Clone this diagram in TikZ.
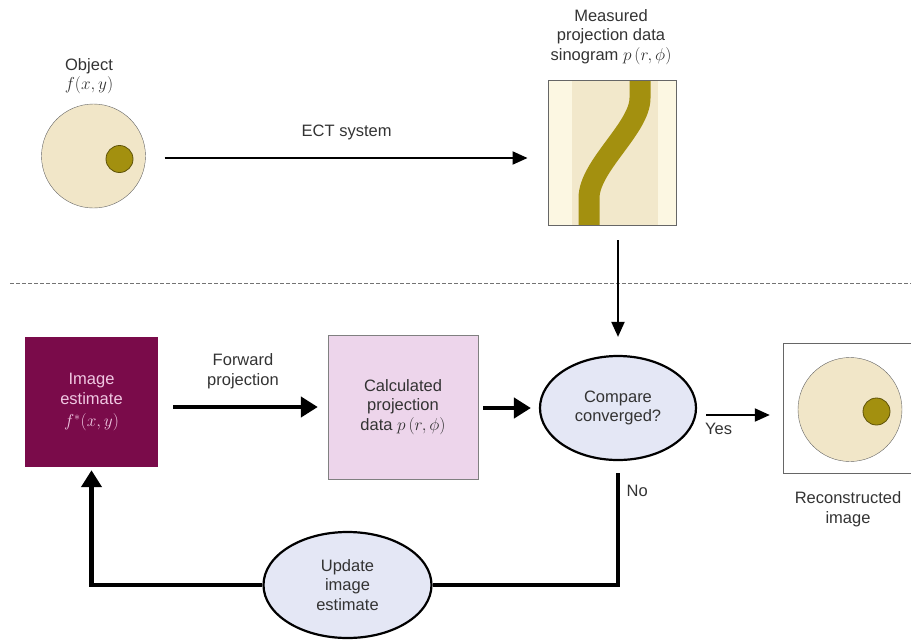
\documentclass[tikz,border=0pt]{standalone}
\usepackage{amsmath, amssymb}
\usepackage{fontspec}
\setmainfont{Liberation Sans}
\usepackage{tikz}
\usetikzlibrary{positioning,shapes.geometric,arrows.meta}
\definecolor{cream}{HTML}{F1E6C8}
\definecolor{palecream}{HTML}{FCF7E2}
\definecolor{sinomid}{HTML}{F2E8CB}
\definecolor{olive}{HTML}{A3900F}
\definecolor{olivedark}{HTML}{5E5208}
\definecolor{maroon}{HTML}{7A0B4A}
\definecolor{maroontext}{HTML}{F0C8E2}
\definecolor{pinkbox}{HTML}{EDD5EB}
\definecolor{lav}{HTML}{E4E7F5}
\tikzset{
  txt/.style={font=\fontsize{16.5}{19.5}\selectfont, align=center, text=black!80},
  thinarrow/.style={line width=2pt, -{Triangle[length=15pt,width=13pt]}},
  fatarrow/.style={line width=4.5pt, -{Triangle[length=17pt,width=20pt]}},
  fatline/.style={line width=4.5pt},
  disc/.style={circle, draw=black!60, fill=cream, inner sep=0pt},
  dot/.style={circle, draw=olivedark, fill=olive, line width=0.8pt, inner sep=0pt, minimum size=27pt},
  bubble/.style={ellipse, draw, line width=2.2pt, fill=lav, inner sep=0pt, txt}
}

\begin{document}
\begin{tikzpicture}[x=1pt,y=-1pt]
    \useasboundingbox (0,0) rectangle (911,641);
    % top: object and measured sinogram
    \node[disc, minimum size=104pt] (obj) at (93.5,156) {};
    \node[dot] (objdot) at (119.5,159) {};
    \node[txt] (objlbl) at (89,76) {Object\\$f(x,y)$};

    \fill[palecream] (548,80) rectangle (676,225);
    \fill[sinomid] (572,80) rectangle (658,225);
    \begin{scope}
      \clip (548,80) rectangle (676,225);
      \draw[olive, line width=21pt] (640,70) -- (640,98) .. controls (640,128) and (589,166) .. (589,198) -- (589,235);
    \end{scope}
    \node[draw=black!60, line width=0.9pt, minimum width=128pt, minimum height=145pt, inner sep=0pt] (sino) at (612,152.5) {};
    \node[txt] (sinolbl) at (611,37) {Measured\\projection data\\sinogram $p\,(r,\phi)$};

    \draw[thinarrow, shorten <=19pt, shorten >=20pt] (obj.east |- 0,158) -- (sino.west |- 0,158)
        node[midway, above=14pt, txt] {ECT system};

    \draw[black!55, line width=1pt, dash pattern=on 4pt off 2pt] (10,283) -- (911,283);

    % bottom: iterative loop
    \node[fill=maroon, minimum width=133pt, minimum height=130pt, txt, text=maroontext] (est) at (91.5,402)
        {Image\\estimate\\[3pt]$f^{*}(x,y)$};
    \node[draw=black!50, fill=pinkbox, minimum width=150pt, minimum height=144pt, txt] (calc) at (403,407)
        {Calculated\\projection\\data $p\,(r,\phi)$};
    \node[bubble, minimum width=156pt, minimum height=104pt] (cmp) at (618,408) {Compare\\converged?};
    \node[draw=black!60, minimum width=130pt, minimum height=130pt, inner sep=0pt] (recon) at (848,408) {};
    \node[disc, minimum size=104pt] (recdisc) at (850,409.5) {};
    \node[dot] (recdot) at (876.5,411.5) {};
    \node[txt] (reclbl) at (848,509) {Reconstructed\\image};
    \node[bubble, minimum width=168pt, minimum height=106pt] (upd) at (347.5,585) {Update\\image\\estimate};

    \draw[thinarrow, shorten >=18pt] (sino.south -| cmp) ++(0,15) -- (cmp.north);
    \draw[fatarrow, shorten <=15pt, shorten >=10pt] (est.east |- calc) -- (calc.west)
        node[midway, above=13pt, txt] {Forward\\projection};
    \draw[fatarrow, shorten <=5pt, shorten >=8pt] (calc.east |- cmp.west) -- (cmp.west);
    \draw[thinarrow, shorten <=9pt, shorten >=13pt] (cmp.east |- 0,415) -- (recon.west |- 0,415)
        node[pos=0.25, below=4pt, txt] {Yes};
    \draw[fatline, shorten <=12pt] (cmp.south) |- (upd.east)
        node[pos=0.12, right=3pt, txt] {No};
    \draw[fatarrow, shorten >=3pt] (upd.west) -| (est.south);
\end{tikzpicture}
\end{document}
